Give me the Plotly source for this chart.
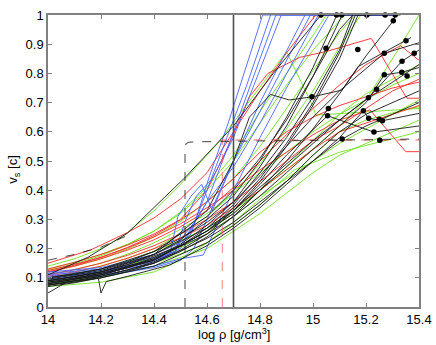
import plotly.graph_objects as go

# ---- data (log rho [g/cm^3], v_s [c]) ----
blue_x = [
    [14, 14.2, 14.4, 14.5, 14.54, 14.61, 14.68, 14.81, 15.3],
    [14, 14.2, 14.4, 14.5, 14.6, 14.7, 14.86, 15.3],
    [14, 14.2, 14.4, 14.48, 14.52, 14.56, 14.62, 14.7, 14.88, 15.3],
    [14, 14.2, 14.4, 14.46, 14.49, 14.54, 14.58, 14.62, 14.7, 14.8, 14.99, 15.3],
    [14, 14.2, 14.4, 14.5, 14.586, 14.61, 14.7, 14.8, 14.9, 15.06, 15.3],
    [14, 14.2, 14.4, 14.48, 14.5, 14.56, 14.6, 14.7, 14.8, 14.9, 15.02],
    [14, 14.2, 14.4, 14.5, 14.55, 14.6, 14.7, 14.8, 14.97],
    [14, 14.2, 14.4, 14.5, 14.55, 14.6, 14.66, 14.75, 14.84],
]
blue_y = [
    [0.12, 0.135, 0.18, 0.22, 0.25, 0.45, 0.63, 1, 1],
    [0.115, 0.13, 0.17, 0.21, 0.36, 0.6, 1, 1],
    [0.11, 0.125, 0.16, 0.19, 0.3, 0.38, 0.44, 0.58, 1, 1],
    [0.1, 0.115, 0.15, 0.18, 0.31, 0.38, 0.42, 0.33, 0.5, 0.67, 1, 1],
    [0.095, 0.11, 0.14, 0.165, 0.178, 0.224, 0.4, 0.58, 0.75, 1, 1],
    [0.105, 0.12, 0.155, 0.19, 0.23, 0.3, 0.36, 0.48, 0.63, 0.8, 1],
    [0.09, 0.105, 0.135, 0.16, 0.2, 0.3, 0.5, 0.7, 1],
    [0.1, 0.12, 0.16, 0.2, 0.28, 0.4, 0.55, 0.76, 1],
]

grid = [14, 14.1, 14.2, 14.3, 14.4, 14.5, 14.6, 14.7, 14.8, 14.9, 15.0, 15.1, 15.2, 15.3, 15.4]

black_x = [
    [14, 14.15, 14.3, 14.52, 14.7, 14.85, 15.03, 15.1],
    [14, 14.1, 14.2, 14.3, 14.4, 14.5, 14.6, 14.7, 14.8, 14.9, 15.0, 15.09, 15.12],
    [14, 14.1, 14.2, 14.3, 14.4, 14.5, 14.6, 14.7, 14.8, 14.9, 15.0, 15.11, 15.15],
    [14, 14.1, 14.2, 14.3, 14.4, 14.5, 14.6, 14.7, 14.8, 14.9, 15.0, 15.1, 15.15, 15.203, 15.22],
    [14, 14.1, 14.2, 14.3, 14.4, 14.5, 14.6, 14.7, 14.8, 14.9, 15.0, 15.1, 15.17, 15.272, 15.3],
    [14, 14.1, 14.2, 14.3, 14.4, 14.5, 14.6, 14.7, 14.8, 14.9, 15.0, 15.1, 15.2, 15.303, 15.31, 15.33],
    [14, 14.2, 14.4, 14.6, 14.7, 14.76, 14.84, 14.91, 15.0, 15.11, 15.17, 15.35, 15.37],
    grid[:12] + [15.269, 15.4],
    [14, 14.2, 14.4, 14.6, 14.7, 14.8, 14.9, 15.0, 15.1, 15.209, 15.24, 15.336, 15.382, 15.4],
    [14, 14.2, 14.4, 14.6, 14.7, 14.8, 14.9, 15.0, 15.1, 15.2, 15.269, 15.335, 15.4],
    [14, 14.2, 14.4, 14.6, 14.7, 14.8, 14.9, 15.0, 15.1, 15.19, 15.21, 15.262, 15.4],
    [14, 14.2, 14.4, 14.6, 14.7, 14.8, 14.9, 15.055, 15.23, 15.4],
    [14, 14.1, 14.19, 14.2, 14.22, 14.3, 14.46, 14.517, 14.6, 14.7, 14.8, 14.9, 15.0, 15.1, 15.2, 15.3, 15.4],
    [14, 14.07, 14.2, 14.4, 14.6, 14.7, 14.8, 14.9, 15.0, 15.1, 15.2, 15.4],
    grid,
    [14, 14.2, 14.4, 14.6, 14.7, 14.8, 14.9, 15.0, 15.1, 15.16, 15.2],
    [14, 14.2, 14.4, 14.6, 14.7, 14.8, 14.9, 15.0, 15.1, 15.15],
]
black_y = [
    [0.11, 0.17, 0.253, 0.446, 0.62, 0.8, 1, 1],
    [0.09, 0.103, 0.12, 0.145, 0.18, 0.23, 0.3, 0.38, 0.5, 0.65, 0.82, 1, 1],
    [0.085, 0.098, 0.115, 0.138, 0.17, 0.215, 0.28, 0.36, 0.48, 0.62, 0.79, 1, 1],
    [0.08, 0.094, 0.11, 0.135, 0.165, 0.21, 0.27, 0.35, 0.46, 0.58, 0.72, 0.88, 1, 1, 1],
    [0.075, 0.089, 0.105, 0.127, 0.155, 0.195, 0.25, 0.33, 0.43, 0.55, 0.69, 0.85, 1, 1, 1],
    [0.07, 0.083, 0.1, 0.122, 0.15, 0.19, 0.24, 0.31, 0.4, 0.5, 0.61, 0.73, 0.86, 0.98, 1, 1],
    [0.09, 0.12, 0.18, 0.33, 0.5, 0.65, 0.728, 0.709, 0.72, 0.743, 0.823, 0.912, 0.923],
    [0.1, 0.113, 0.13, 0.155, 0.19, 0.235, 0.29, 0.36, 0.45, 0.55, 0.65, 0.74, 0.869, 0.905],
    [0.095, 0.125, 0.18, 0.27, 0.33, 0.41, 0.49, 0.57, 0.64, 0.717, 0.746, 0.842, 0.869, 0.88],
    [0.085, 0.115, 0.165, 0.25, 0.31, 0.38, 0.46, 0.54, 0.62, 0.7, 0.795, 0.804, 0.82],
    [0.075, 0.105, 0.15, 0.235, 0.29, 0.36, 0.43, 0.5, 0.58, 0.672, 0.646, 0.638, 0.663],
    [0.08, 0.11, 0.16, 0.26, 0.33, 0.42, 0.52, 0.655, 0.599, 0.62],
    [0.075, 0.085, 0.1, 0.048, 0.087, 0.105, 0.144, 0.171, 0.21, 0.27, 0.34, 0.42, 0.5, 0.57, 0.62, 0.66, 0.7],
    [0.048, 0.085, 0.1, 0.14, 0.22, 0.28, 0.35, 0.43, 0.52, 0.6, 0.66, 0.74],
    [0.09, 0.104, 0.12, 0.145, 0.175, 0.21, 0.26, 0.32, 0.4, 0.48, 0.56, 0.64, 0.71, 0.77, 0.83],
    [0.08, 0.11, 0.16, 0.26, 0.34, 0.44, 0.56, 0.7, 0.87, 1, 1],
    [0.1, 0.13, 0.19, 0.31, 0.4, 0.51, 0.64, 0.79, 0.95, 1],
]

green_x = [
    [14, 14.1, 14.2, 14.28, 14.4, 14.5, 14.64, 14.9, 15.0, 15.01, 15.4],
    [14, 14.1, 14.2, 14.3, 14.4, 14.5, 14.6, 14.7, 14.8, 14.9, 15.0, 15.12, 15.2],
    [14, 14.1, 14.2, 14.3, 14.4, 14.5, 14.6, 14.7, 14.8, 14.9, 15.0, 15.1, 15.16],
    [14, 14.1, 14.2, 14.3, 14.4, 14.5, 14.6, 14.7, 14.8, 14.9, 15.0, 15.1, 15.18],
    grid,
    grid,
    grid,
    grid,
    [14, 14.2, 14.4, 14.5, 14.6, 14.7, 14.8, 14.93, 15.1, 15.4],
    [14, 14.2, 14.4, 14.6, 14.7, 14.8, 14.9, 15.0, 15.1, 15.4],
    [14, 14.1, 14.2, 14.3, 14.4, 14.5, 14.6, 14.7, 14.8, 14.9, 15.0, 15.05],
    grid,
]
green_y = [
    [0.14, 0.165, 0.2, 0.24, 0.33, 0.42, 0.56, 0.874, 0.686, 0.657, 0.68],
    [0.13, 0.153, 0.18, 0.215, 0.26, 0.32, 0.4, 0.5, 0.63, 0.76, 0.88, 1, 1],
    [0.12, 0.14, 0.165, 0.198, 0.24, 0.293, 0.36, 0.44, 0.55, 0.68, 0.81, 0.94, 1],
    [0.1, 0.118, 0.14, 0.167, 0.2, 0.25, 0.31, 0.39, 0.49, 0.61, 0.74, 0.89, 1],
    [0.095, 0.111, 0.13, 0.157, 0.19, 0.228, 0.27, 0.33, 0.4, 0.47, 0.54, 0.62, 0.71, 0.85, 1.0],
    [0.11, 0.128, 0.15, 0.181, 0.22, 0.266, 0.32, 0.39, 0.46, 0.53, 0.6, 0.66, 0.71, 0.76, 0.8],
    [0.085, 0.098, 0.115, 0.137, 0.165, 0.203, 0.25, 0.31, 0.38, 0.44, 0.5, 0.56, 0.61, 0.66, 0.709],
    [0.08, 0.091, 0.105, 0.125, 0.15, 0.182, 0.22, 0.28, 0.35, 0.43, 0.52, 0.6, 0.64, 0.665, 0.686],
    [0.07, 0.085, 0.12, 0.16, 0.22, 0.29, 0.37, 0.47, 0.53, 0.6],
    [0.075, 0.1, 0.14, 0.2, 0.26, 0.32, 0.39, 0.46, 0.52, 0.64],
    [0.125, 0.148, 0.175, 0.213, 0.26, 0.325, 0.41, 0.52, 0.67, 0.8, 0.93, 1],
    [0.09, 0.104, 0.12, 0.143, 0.17, 0.21, 0.26, 0.32, 0.4, 0.48, 0.57, 0.66, 0.73, 0.78, 0.83],
]

red_x = [
    [14, 14.16, 14.3, 14.4, 14.5, 14.6, 14.7, 14.8, 14.9, 15.01],
    [14, 14.1, 14.2, 14.3, 14.4, 14.5, 14.6, 14.68, 14.76, 14.83, 14.95, 15.05, 15.22, 15.354, 15.4],
    [14, 14.1, 14.2, 14.3, 14.4, 14.5, 14.6, 14.7, 14.8, 14.9, 15.0, 15.1, 15.215, 15.35, 15.4],
    [14, 14.1, 14.2, 14.3, 14.4, 14.5, 14.6, 14.7, 14.8, 14.9, 15.0, 15.1, 15.2, 15.33, 15.4],
    grid,
    grid,
    grid,
]
red_y = [
    [0.15, 0.195, 0.255, 0.305, 0.37, 0.46, 0.6, 0.74, 0.87, 1],
    [0.13, 0.153, 0.18, 0.212, 0.25, 0.3, 0.4, 0.55, 0.72, 0.8, 0.855, 0.875, 0.92, 0.715, 0.715],
    [0.12, 0.143, 0.17, 0.202, 0.24, 0.285, 0.34, 0.4, 0.47, 0.53, 0.59, 0.64, 0.675, 0.532, 0.532],
    [0.12, 0.14, 0.165, 0.195, 0.23, 0.275, 0.33, 0.41, 0.5, 0.59, 0.68, 0.76, 0.83, 0.895, 0.845],
    [0.11, 0.128, 0.15, 0.177, 0.21, 0.25, 0.3, 0.36, 0.43, 0.5, 0.57, 0.62, 0.68, 0.74, 0.78],
    [0.105, 0.121, 0.14, 0.167, 0.2, 0.237, 0.28, 0.34, 0.4, 0.47, 0.54, 0.6, 0.63, 0.66, 0.69],
    [0.125, 0.146, 0.17, 0.204, 0.245, 0.298, 0.36, 0.44, 0.53, 0.6, 0.65, 0.69, 0.72, 0.75, 0.77],
]

# black markers on the curves
dot_x = [15.03, 15.089, 15.108, 15.203, 15.272, 15.31, 15.303, 15.049, 15.169, 15.351,
         15.269, 15.382, 15.336, 15.269, 15.335, 15.355, 15.24, 15.209, 14.996, 15.058,
         15.055, 15.19, 15.21, 15.25, 15.262, 15.23, 15.11, 15.252]
dot_y = [1, 1, 1, 1, 1, 1, 0.98, 0.886, 0.882, 0.912,
         0.869, 0.869, 0.842, 0.795, 0.804, 0.791, 0.746, 0.717, 0.72, 0.68,
         0.655, 0.672, 0.646, 0.643, 0.638, 0.599, 0.575, 0.571]

# dashed reference curves
step_x = [14.517, 14.517, 14.52, 14.53, 14.55, 15.4]
step_y = [0, 0.545, 0.558, 0.564, 0.566, 0.575]
dash_left_x = [14, 14.1, 14.2, 14.3]
dash_left_y = [0.16, 0.18, 0.205, 0.245]
red_step_x = [14.658, 14.658, 15.4]
red_step_y = [0, 0.572, 0.572]
vline_x = 14.70

x_ticks = [14, 14.2, 14.4, 14.6, 14.8, 15, 15.2, 15.4]
y_ticks = [0, 0.1, 0.2, 0.3, 0.4, 0.5, 0.6, 0.7, 0.8, 0.9, 1]

fig = go.Figure()

def add_group(xs, ys, color):
    for x, y in zip(xs, ys):
        fig.add_trace(go.Scatter(x=x, y=y, mode='lines', line=dict(color=color, width=0.9),
                                 showlegend=False, hoverinfo='skip'))

add_group(green_x, green_y, 'rgb(110,225,30)')
add_group(red_x, red_y, 'rgb(255,40,40)')
add_group(blue_x, blue_y, 'rgb(70,100,255)')
add_group(black_x, black_y, 'rgb(25,25,25)')

fig.add_trace(go.Scatter(x=dash_left_x, y=dash_left_y, mode='lines',
                         line=dict(color='rgba(0,0,0,0.7)', width=1, dash='dash'), showlegend=False))
fig.add_trace(go.Scatter(x=red_step_x, y=red_step_y, mode='lines',
                         line=dict(color='rgba(255,90,90,0.6)', width=1.3, dash='dash'), showlegend=False))
fig.add_trace(go.Scatter(x=step_x, y=step_y, mode='lines',
                         line=dict(color='rgba(0,0,0,0.6)', width=1.2, dash='dash'), showlegend=False))
fig.add_trace(go.Scatter(x=[vline_x, vline_x], y=[0, 1], mode='lines',
                         line=dict(color='rgb(80,80,80)', width=1.6), showlegend=False))
fig.add_trace(go.Scatter(x=dot_x, y=dot_y, mode='markers', cliponaxis=False,
                         marker=dict(color='black', size=5.5), showlegend=False))

axis_common = dict(showgrid=False, zeroline=False, showline=True, linecolor='rgb(128,128,128)',
                   linewidth=1.5, mirror='ticks', ticks='inside', ticklen=4, automargin=False,
                   tickcolor='rgb(128,128,128)', tickfont=dict(size=13, color='black'))

fig.update_xaxes(range=[14, 15.4], tickvals=x_ticks, ticktext=[f'{v:g}' for v in x_ticks], **axis_common)
fig.update_yaxes(range=[0, 1], tickvals=y_ticks, ticktext=[f'{v:g}' for v in y_ticks], **axis_common)

# axis titles placed by hand (MATLAB-like positions)
fig.add_annotation(text='log ρ [g/cm<sup>3</sup>]', xref='paper', yref='paper', x=0.5, y=-0.092,
                   xanchor='center', yanchor='middle', showarrow=False, font=dict(size=13))
fig.add_annotation(text='v<sub>s</sub> [c]', xref='paper', yref='paper', x=-0.092, y=0.47,
                   xanchor='center', yanchor='middle', textangle=-90, showarrow=False, font=dict(size=13))

fig.update_layout(width=436, height=345, margin=dict(l=48, r=17, t=15, b=38),
                  plot_bgcolor='white', paper_bgcolor='white',
                  font=dict(family='Liberation Sans, Arial, sans-serif', color='black'))

fig.write_html("out.html", config={'displayModeBar': False},
               post_script="document.body.style.margin='0';")
